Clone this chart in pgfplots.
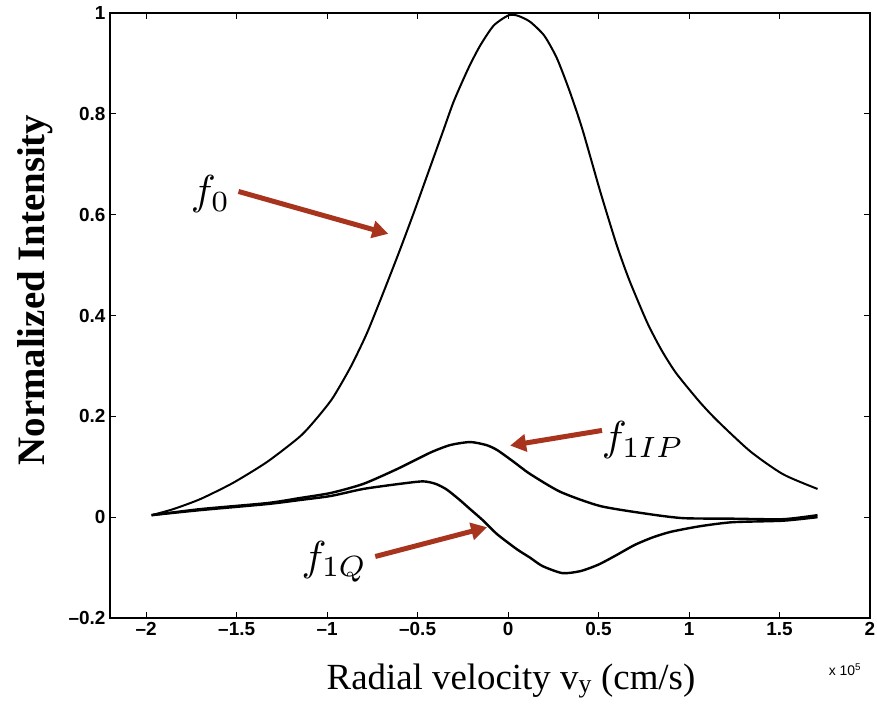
\documentclass[border=0pt]{standalone}
\usepackage{pgfplots}
\pgfplotsset{compat=1.18}
\usepackage{fontspec}
\setmainfont{Liberation Serif}
\newfontfamily\ticksf{Liberation Sans}
\usetikzlibrary{arrows.meta}
\definecolor{arr}{RGB}{168,52,30}

\pgfplotstableread{
x y
-1.97 0.004
-1.85 0.016
-1.70 0.036
-1.52 0.068
-1.33 0.110
-1.15 0.160
-1.06 0.195
-0.97 0.236
-0.87 0.298
-0.78 0.365
-0.69 0.445
-0.60 0.528
-0.52 0.605
-0.45 0.675
-0.36 0.765
-0.30 0.825
-0.22 0.890
-0.155 0.935
-0.08 0.975
0.00 0.995
0.05 0.995
0.12 0.983
0.20 0.955
0.27 0.910
0.34 0.845
0.41 0.770
0.51 0.645
0.60 0.540
0.67 0.470
0.77 0.385
0.85 0.330
0.93 0.285
1.06 0.228
1.16 0.190
1.34 0.130
1.52 0.085
1.71 0.056
}\fzero

\pgfplotstableread{
x y
-1.97 0.004
-1.70 0.016
-1.33 0.028
-1.15 0.038
-0.98 0.048
-0.80 0.066
-0.61 0.096
-0.43 0.128
-0.32 0.143
-0.21 0.149
-0.12 0.143
-0.06 0.133
0.03 0.110
0.12 0.086
0.29 0.050
0.51 0.022
0.78 0.006
0.97 -0.002
1.24 -0.003
1.52 -0.004
1.71 0.004
}\fIP

\pgfplotstableread{
x y
-1.97 0.004
-1.70 0.014
-1.33 0.026
-1.15 0.034
-0.98 0.042
-0.80 0.056
-0.60 0.066
-0.47 0.071
-0.40 0.066
-0.34 0.055
-0.27 0.035
-0.21 0.016
-0.14 -0.006
-0.06 -0.034
0.05 -0.064
0.12 -0.080
0.19 -0.097
0.30 -0.111
0.40 -0.107
0.50 -0.094
0.60 -0.075
0.70 -0.055
0.80 -0.040
0.90 -0.029
1.06 -0.018
1.24 -0.010
1.52 -0.007
1.71 0.000
}\fQ

\begin{document}
\begin{tikzpicture}
\useasboundingbox (-110bp,-88bp) rectangle (767bp,618bp);
\begin{axis}[
  at={(0,0)}, anchor=south west,
  width=760bp, height=605bp, scale only axis,
  xmin=-2.2, xmax=2, ymin=-0.2, ymax=1,
  xtick={-2,-1.5,-1,-0.5,0,0.5,1,1.5,2},
  ytick={-0.2,0,0.2,0.4,0.6,0.8,1},
  xticklabels={\textendash2,\textendash1.5,\textendash1,\textendash0.5,0,0.5,1,1.5,2},
  yticklabels={\textendash0.2,0,0.2,0.4,0.6,0.8,1},
  tick label style={font=\ticksf\bfseries\fontsize{19}{19}\selectfont},
  xticklabel style={yshift=-1bp},
  yticklabel style={xshift=-1bp},
  major tick length=6bp,
  axis line style={line width=1.4bp},
  every tick/.style={black, line width=1bp},
  clip=false,
]
\addplot[black, line width=2bp, smooth, tension=0.4] table {\fzero};
\addplot[black, line width=2.4bp, smooth, tension=0.4] table {\fIP};
\addplot[black, line width=2.4bp, smooth, tension=0.4] table {\fQ};

\node[scale=4.2] at (axis cs:-1.644,0.64) {$f_0$};
\draw[arr, line width=5bp, -{Triangle[length=16bp,width=17bp]}] (axis cs:-1.49,0.646) -- (axis cs:-0.662,0.562);
\node[scale=4.2] at (axis cs:0.745,0.152) {$f_{1IP}$};
\draw[arr, line width=5bp, -{Triangle[length=16bp,width=17bp]}] (axis cs:0.519,0.172) -- (axis cs:0.011,0.142);
\node[scale=4.2] at (axis cs:-0.96,-0.088) {$f_{1Q}$};
\draw[arr, line width=5bp, -{Triangle[length=16bp,width=17bp]}] (axis cs:-0.734,-0.078) -- (axis cs:-0.116,-0.02);
\end{axis}
\node[anchor=base, font=\fontsize{37}{40}\selectfont] at (401bp,-71bp) {Radial velocity v\textsubscript{y} (cm/s)};
\node[rotate=90, font=\bfseries\fontsize{39}{42}\selectfont] at (-75bp,328bp) {Normalized Intensity};
\node[font=\ticksf\fontsize{14}{14}\selectfont] at (735bp,-52bp) {x 10\textsuperscript{5}};
\end{tikzpicture}
\end{document}
